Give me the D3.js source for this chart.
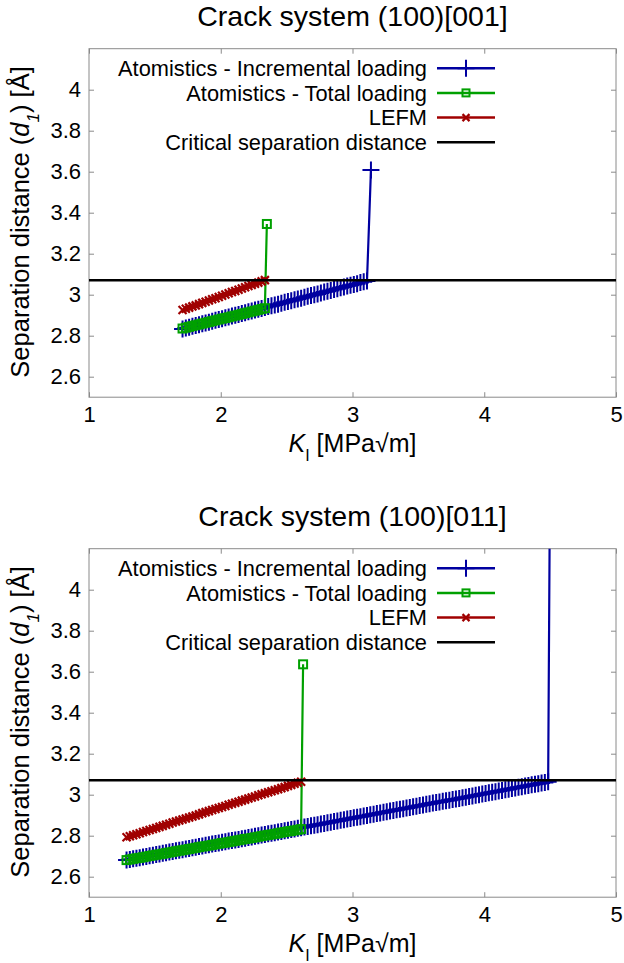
<!DOCTYPE html>
<html><head><meta charset="utf-8">
<script src="https://cdn.jsdelivr.net/npm/d3@7"></script>
<style>body{margin:0;background:#fff}svg{display:block}text{font-family:"Liberation Sans",Arial,sans-serif;fill:#000}</style>
</head><body>
<script>
// ---------- data ----------
const titles = ["Crack system (100)[001]", "Crack system (100)[011]"];
const seriesNames = ["Atomistics - Incremental loading", "Atomistics - Total loading", "LEFM", "Critical separation distance"];
const xTicks = [1, 2, 3, 4, 5];
const yTicks = [2.6, 2.8, 3.0, 3.2, 3.4, 3.6, 3.8, 4.0];
const criticalDistance = 3.07;

// Panel 1: (100)[001]
const kTopIncr = [1.71,1.735,1.76,1.785,1.81,1.835,1.86,1.885,1.91,1.935,1.96,1.985,2.01,2.035,2.06,2.085,2.11,2.135,2.16,2.185,2.21,2.235,2.26,2.285,2.31,2.335,2.36,2.385,2.41,2.435,2.46,2.485,2.51,2.535,2.56,2.585,2.61,2.635,2.66,2.685,2.71,2.735,2.76,2.785,2.81,2.835,2.86,2.885,2.91,2.935,2.96,2.985,3.01,3.035,3.06,3.085,3.11,3.14];
const dTopIncr = [2.833,2.837,2.841,2.846,2.850,2.854,2.858,2.862,2.866,2.871,2.875,2.879,2.883,2.887,2.891,2.896,2.900,2.904,2.908,2.912,2.917,2.921,2.925,2.929,2.933,2.937,2.942,2.946,2.950,2.954,2.958,2.963,2.967,2.971,2.975,2.979,2.983,2.988,2.992,2.996,3.000,3.004,3.008,3.013,3.017,3.021,3.025,3.029,3.034,3.038,3.042,3.046,3.050,3.054,3.059,3.063,3.067,3.608];
const kTopTotal = [1.71,1.735,1.76,1.785,1.81,1.835,1.86,1.885,1.91,1.935,1.96,1.985,2.01,2.035,2.06,2.085,2.11,2.135,2.16,2.185,2.21,2.235,2.26,2.285,2.31,2.335,2.35];
const dTopTotal = [2.835,2.839,2.843,2.847,2.851,2.855,2.859,2.863,2.867,2.871,2.875,2.879,2.883,2.886,2.890,2.894,2.898,2.902,2.906,2.910,2.914,2.918,2.922,2.926,2.930,2.934,3.345];
const kTopLefm = [1.71,1.735,1.76,1.785,1.81,1.835,1.86,1.885,1.91,1.935,1.96,1.985,2.01,2.035,2.06,2.085,2.11,2.135,2.16,2.185,2.21,2.235,2.26,2.285,2.31,2.335];
const dTopLefm = [2.925,2.931,2.937,2.943,2.948,2.954,2.960,2.966,2.972,2.978,2.983,2.989,2.995,3.001,3.007,3.013,3.018,3.024,3.030,3.036,3.042,3.048,3.053,3.059,3.065,3.071];

// Panel 2: (100)[011]
const kBotIncr = [1.285,1.31,1.335,1.36,1.385,1.41,1.435,1.46,1.485,1.51,1.535,1.56,1.585,1.61,1.635,1.66,1.685,1.71,1.735,1.76,1.785,1.81,1.835,1.86,1.885,1.91,1.935,1.96,1.985,2.01,2.035,2.06,2.085,2.11,2.135,2.16,2.185,2.21,2.235,2.26,2.285,2.31,2.335,2.36,2.385,2.41,2.435,2.46,2.485,2.51,2.535,2.56,2.585,2.61,2.635,2.66,2.685,2.71,2.735,2.76,2.785,2.81,2.835,2.86,2.885,2.91,2.935,2.96,2.985,3.01,3.035,3.06,3.085,3.11,3.135,3.16,3.185,3.21,3.235,3.26,3.285,3.31,3.335,3.36,3.385,3.41,3.435,3.46,3.485,3.51,3.535,3.56,3.585,3.61,3.635,3.66,3.685,3.71,3.735,3.76,3.785,3.81,3.835,3.86,3.885,3.91,3.935,3.96,3.985,4.01,4.035,4.06,4.085,4.11,4.135,4.16,4.185,4.21,4.235,4.26,4.285,4.31,4.335,4.36,4.385,4.41,4.435,4.46,4.485,4.50];
const dBotIncr = [2.681,2.684,2.687,2.690,2.693,2.696,2.699,2.702,2.705,2.708,2.711,2.714,2.717,2.720,2.723,2.726,2.729,2.732,2.735,2.738,2.741,2.744,2.747,2.750,2.753,2.756,2.759,2.762,2.765,2.768,2.771,2.774,2.777,2.779,2.782,2.785,2.788,2.791,2.794,2.797,2.800,2.803,2.806,2.809,2.812,2.815,2.818,2.821,2.824,2.827,2.830,2.833,2.836,2.839,2.842,2.845,2.848,2.851,2.854,2.857,2.860,2.863,2.866,2.869,2.872,2.875,2.878,2.881,2.884,2.887,2.890,2.893,2.896,2.899,2.902,2.905,2.908,2.911,2.914,2.917,2.920,2.923,2.926,2.929,2.932,2.935,2.938,2.941,2.944,2.947,2.950,2.953,2.956,2.959,2.962,2.965,2.968,2.970,2.973,2.976,2.979,2.982,2.985,2.988,2.991,2.994,2.997,3.000,3.003,3.006,3.009,3.012,3.015,3.018,3.021,3.024,3.027,3.030,3.033,3.036,3.039,3.042,3.045,3.048,3.051,3.054,3.057,3.060,3.063,4.650];
const kBotTotal = [1.285,1.31,1.335,1.36,1.385,1.41,1.435,1.46,1.485,1.51,1.535,1.56,1.585,1.61,1.635,1.66,1.685,1.71,1.735,1.76,1.785,1.81,1.835,1.86,1.885,1.91,1.935,1.96,1.985,2.01,2.035,2.06,2.085,2.11,2.135,2.16,2.185,2.21,2.235,2.26,2.285,2.31,2.335,2.36,2.385,2.41,2.435,2.46,2.485,2.51,2.535,2.56,2.585,2.61,2.625];
const dBotTotal = [2.681,2.684,2.687,2.690,2.692,2.695,2.698,2.701,2.704,2.707,2.709,2.712,2.715,2.718,2.721,2.724,2.727,2.729,2.732,2.735,2.738,2.741,2.744,2.747,2.749,2.752,2.755,2.758,2.761,2.764,2.766,2.769,2.772,2.775,2.778,2.781,2.784,2.786,2.789,2.792,2.795,2.798,2.801,2.804,2.806,2.809,2.812,2.815,2.818,2.821,2.823,2.826,2.829,2.832,3.636];
const kBotLefm = [1.285,1.31,1.335,1.36,1.385,1.41,1.435,1.46,1.485,1.51,1.535,1.56,1.585,1.61,1.635,1.66,1.685,1.71,1.735,1.76,1.785,1.81,1.835,1.86,1.885,1.91,1.935,1.96,1.985,2.01,2.035,2.06,2.085,2.11,2.135,2.16,2.185,2.21,2.235,2.26,2.285,2.31,2.335,2.36,2.385,2.41,2.435,2.46,2.485,2.51,2.535,2.56,2.585,2.61];
const dBotLefm = [2.792,2.797,2.802,2.807,2.812,2.818,2.823,2.828,2.833,2.838,2.843,2.848,2.853,2.858,2.864,2.869,2.874,2.879,2.884,2.889,2.894,2.899,2.904,2.910,2.915,2.920,2.925,2.930,2.935,2.940,2.945,2.951,2.956,2.961,2.966,2.971,2.976,2.981,2.986,2.991,2.997,3.002,3.007,3.012,3.017,3.022,3.027,3.032,3.037,3.043,3.048,3.053,3.058,3.063];

const colors = ["#0000a0", "#00a000", "#a00000", "#000000"];

// ---------- layout ----------
const W = 624, H = 963;
const plotL = 89, plotR = 616, plotH = 348.5;
const panelTops = [48.7, 548.7];
const panels = [
  {title: titles[0], series: [[kTopIncr, dTopIncr], [kTopTotal, dTopTotal], [kTopLefm, dTopLefm]]},
  {title: titles[1], series: [[kBotIncr, dBotIncr], [kBotTotal, dBotTotal], [kBotLefm, dBotLefm]]}
];

const svg = d3.select("body").append("svg").attr("width", W).attr("height", H);
const frameColor = "#8a8a8a";

function marker(g, type, x, y, color, legend) {
  if (type === 0) {
    const h = 8.5;
    g.append("path").attr("d", `M${x-h},${y}H${x+h}M${x},${y-h}V${y+h}`)
      .attr("stroke", color).attr("stroke-width", 2).attr("fill", "none");
  } else if (type === 1) {
    const s = legend ? 7 : 8;
    g.append("rect").attr("x", x - s/2).attr("y", y - s/2).attr("width", s).attr("height", s)
      .attr("stroke", color).attr("stroke-width", 2).attr("fill", "none");
  } else if (type === 2) {
    const h = legend ? 3.5 : 4;
    g.append("path").attr("d", `M${x-h},${y-h}L${x+h},${y+h}M${x-h},${y+h}L${x+h},${y-h}`)
      .attr("stroke", color).attr("stroke-width", 2.2).attr("fill", "none");
  }
}

panels.forEach((p, pi) => {
  const top = panelTops[pi];
  const x = d3.scaleLinear().domain([1, 5]).range([plotL, plotR]);
  const y = d3.scaleLinear().domain([2.5, 4.2]).range([top + plotH, top]);
  const g = svg.append("g");

  // title
  g.append("text").attr("x", (plotL + plotR) / 2).attr("y", top - 22.5)
    .attr("text-anchor", "middle").style("font-size", "28.5px").text(p.title);

  // clip
  const cid = "clip" + pi;
  svg.append("defs").append("clipPath").attr("id", cid)
    .append("rect").attr("x", plotL).attr("y", top).attr("width", plotR - plotL).attr("height", plotH);

  // axes
  const axB = d3.axisBottom(x).tickValues(xTicks).tickSize(-5).tickPadding(8).tickFormat(d3.format("d"));
  const axT = d3.axisTop(x).tickValues(xTicks).tickSize(-5).tickFormat("");
  const axL = d3.axisLeft(y).tickValues(yTicks).tickSize(-5).tickPadding(8).tickFormat(d => d3.format("")(+d.toFixed(1)));
  const axR = d3.axisRight(y).tickValues(yTicks).tickSize(-5).tickFormat("");
  const style = a => { a.select(".domain").remove(); a.selectAll("line").attr("stroke", frameColor); a.selectAll("text").style("font-size", "22px").attr("fill", "#000"); };
  g.append("g").attr("transform", `translate(0,${top + plotH})`).call(axB).call(style).selectAll("text").attr("dy", "0.75em");
  g.append("g").attr("transform", `translate(0,${top})`).call(axT).call(style);
  g.append("g").attr("transform", `translate(${plotL},0)`).call(axL).call(style);
  g.append("g").attr("transform", `translate(${plotR},0)`).call(axR).call(style);
  g.append("rect").attr("x", plotL).attr("y", top).attr("width", plotR - plotL).attr("height", plotH)
    .attr("fill", "none").attr("stroke", frameColor).attr("stroke-width", 1);

  // data
  const dg = g.append("g").attr("clip-path", `url(#${cid})`);
  p.series.forEach(([ks, ds], si) => {
    const pts = ks.map((k, i) => [x(k), y(ds[i])]);
    dg.append("path").attr("d", d3.line()(pts)).attr("fill", "none")
      .attr("stroke", colors[si]).attr("stroke-width", 2.2);
    const mg = dg.append("g");
    pts.forEach(([px, py]) => marker(mg, si, px, py, colors[si], false));
  });
  dg.append("line").attr("x1", plotL).attr("x2", plotR)
    .attr("y1", y(criticalDistance)).attr("y2", y(criticalDistance))
    .attr("stroke", "#000").attr("stroke-width", 2.5);

  // legend
  const lg = g.append("g");
  seriesNames.forEach((name, i) => {
    const ly = top + 19.5 + i * 24.7;
    lg.append("text").attr("x", 427).attr("y", ly).attr("dy", "0.35em")
      .attr("text-anchor", "end").style("font-size", "21.8px").text(name);
    lg.append("line").attr("x1", 437).attr("x2", 495).attr("y1", ly).attr("y2", ly)
      .attr("stroke", colors[i]).attr("stroke-width", 2.5);
    marker(lg, i, 466, ly, colors[i], true);
  });

  // axis labels
  const xl = g.append("text").attr("x", (plotL + plotR) / 2).attr("y", top + plotH + 55)
    .attr("text-anchor", "middle").style("font-size", "25px");
  xl.append("tspan").style("font-style", "italic").text("K");
  xl.append("tspan").attr("baseline-shift", "sub").style("font-size", "16px").text("I");
  xl.append("tspan").text(" [MPa√m]");

  const yl = g.append("text").attr("transform", `translate(29,${top + plotH / 2 - 1}) rotate(-90)`)
    .attr("text-anchor", "middle").style("font-size", "25.5px");
  yl.append("tspan").text("Separation distance (");
  yl.append("tspan").style("font-style", "italic").text("d");
  yl.append("tspan").attr("baseline-shift", "sub").style("font-size", "17px").style("font-style", "italic").text("1");
  yl.append("tspan").text(") [Å]");
});
</script>
</body></html>
